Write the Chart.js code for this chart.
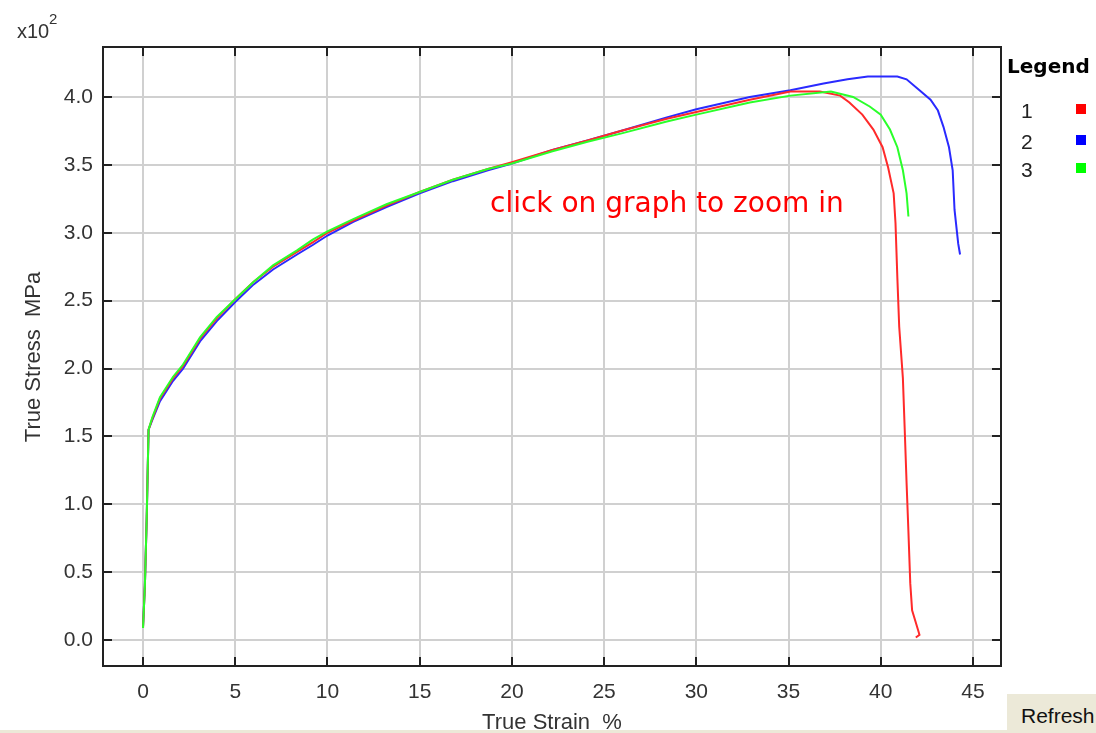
<!DOCTYPE html>
<html>
<head>
<meta charset="utf-8">
<script src="https://cdn.jsdelivr.net/npm/chart.js@4.4.0/dist/chart.umd.min.js"></script>
<style>
  body { margin: 0; background: #fff; overflow: hidden; }
  #wrap { position: relative; width: 1096px; height: 733px; }
  #strip { position: absolute; left: 0; right: 0; bottom: 0; height: 3px; background: #ece9d8; }
  #refresh { position: absolute; left: 1007px; top: 694px; width: 89px; height: 39px; background: #ece9d8;
    font: 21px "Liberation Sans", Arial, sans-serif; color: #111; box-sizing: border-box;
    padding: 10px 0 0 14px; line-height: 24px; white-space: nowrap; overflow: hidden; }
</style>
</head>
<body>
<div id="wrap">
  <canvas id="stressChart"></canvas>
  <div id="strip"></div>
  <div id="refresh">Refresh</div>
</div>
<script>
// true strain (%) and true stress (x10^2 MPa)
const strain1 = [0.0, 0.1, 0.2, 0.3, 0.5, 0.92, 1.63, 2.17, 3.09, 4.0, 5.0, 6.0, 7.05, 8.35, 9.2, 10.0, 11.4, 13.2, 15.0, 16.8, 18.7, 20.0, 22.2, 24.1, 25.9, 28.4, 30.0, 32.9, 35.1, 36.7, 37.8, 38.3, 39.0, 39.6, 40.1, 40.4, 40.7, 40.8, 40.9, 41.0, 41.2, 41.3, 41.4, 41.5, 41.6, 41.7, 41.9, 42.1, 41.9];
const stress1 = [0.09, 0.4, 0.9, 1.55, 1.63, 1.78, 1.93, 2.02, 2.22, 2.37, 2.51, 2.64, 2.75, 2.86, 2.93, 3.0, 3.09, 3.2, 3.3, 3.39, 3.47, 3.52, 3.61, 3.68, 3.75, 3.84, 3.89, 3.98, 4.04, 4.04, 4.01, 3.96, 3.87, 3.76, 3.63, 3.48, 3.29, 3.07, 2.67, 2.31, 1.93, 1.55, 1.16, 0.8, 0.42, 0.22, 0.13, 0.04, 0.02];

const strain2 = [0.0, 0.1, 0.2, 0.3, 0.5, 0.92, 1.63, 2.17, 3.09, 4.0, 5.0, 6.0, 7.05, 8.35, 9.2, 10.0, 11.4, 13.2, 15.0, 16.8, 18.7, 20.0, 22.2, 24.1, 25.9, 28.4, 30.0, 32.9, 35.1, 36.9, 38.2, 39.3, 40.9, 41.4, 42.1, 42.7, 43.1, 43.4, 43.7, 43.9, 44.0, 44.2, 44.3];
const stress2 = [0.1, 0.4, 0.9, 1.55, 1.62, 1.76, 1.91, 2.0, 2.2, 2.35, 2.49, 2.62, 2.73, 2.84, 2.91, 2.98, 3.08, 3.19, 3.29, 3.38, 3.46, 3.51, 3.61, 3.68, 3.75, 3.85, 3.91, 4.0, 4.05, 4.1, 4.13, 4.15, 4.15, 4.13, 4.05, 3.98, 3.9, 3.78, 3.63, 3.46, 3.17, 2.92, 2.84];

const strain3 = [0.0, 0.1, 0.2, 0.3, 0.5, 0.92, 1.63, 2.17, 3.09, 4.0, 5.0, 6.0, 7.05, 8.35, 9.2, 10.0, 11.4, 13.2, 15.0, 16.8, 18.7, 20.0, 22.2, 24.1, 25.9, 28.4, 30.0, 32.9, 35.1, 37.3, 38.5, 39.4, 40.0, 40.5, 40.9, 41.2, 41.4, 41.5];
const stress3 = [0.09, 0.4, 0.9, 1.55, 1.64, 1.79, 1.94, 2.03, 2.23, 2.38, 2.51, 2.64, 2.76, 2.87, 2.95, 3.01, 3.1, 3.21, 3.3, 3.39, 3.47, 3.51, 3.6, 3.67, 3.73, 3.82, 3.87, 3.96, 4.01, 4.04, 4.0, 3.93, 3.87, 3.76, 3.63, 3.46, 3.29, 3.12];

const seriesLabels = ['1', '2', '3'];
const xTicks = [0, 5, 10, 15, 20, 25, 30, 35, 40, 45];
const yTicks = [0.0, 0.5, 1.0, 1.5, 2.0, 2.5, 3.0, 3.5, 4.0];

const lineColors = ['#ff2a2a', '#2a2aff', '#2aff2a'];
const keyColors = ['#ff0000', '#0000ff', '#00ff00'];
const tickFont = { family: '"Liberation Sans", Arial, sans-serif', size: 21 };

function toPoints(xs, ys) {
  return xs.map((v, i) => ({ x: v, y: ys[i] }));
}

const canvas = document.getElementById('stressChart');
canvas.width = 1096;
canvas.height = 733;

// frame, inside ticks, legend and the loose texts
const decor = {
  id: 'decor',
  afterDraw(chart) {
    const { ctx, chartArea: a, scales: { x, y } } = chart;
    ctx.save();
    ctx.strokeStyle = '#222';
    ctx.lineWidth = 2;
    ctx.beginPath();
    xTicks.forEach(v => {
      const px = Math.round(x.getPixelForValue(v));
      ctx.moveTo(px, a.bottom); ctx.lineTo(px, a.bottom - 9);
      ctx.moveTo(px, a.top); ctx.lineTo(px, a.top + 9);
    });
    yTicks.forEach(v => {
      const py = Math.round(y.getPixelForValue(v));
      ctx.moveTo(a.left, py); ctx.lineTo(a.left + 9, py);
      ctx.moveTo(a.right, py); ctx.lineTo(a.right - 9, py);
    });
    ctx.stroke();
    ctx.strokeRect(a.left, a.top, a.right - a.left, a.bottom - a.top);

    ctx.fillStyle = '#ff0000';
    ctx.font = '28px "DejaVu Sans", sans-serif';
    ctx.textBaseline = 'alphabetic';
    ctx.textAlign = 'left';
    ctx.fillText('click on graph to zoom in', 490, 212);

    ctx.fillStyle = '#333';
    ctx.font = '20px "Liberation Sans", Arial, sans-serif';
    ctx.fillText('x10', 17, 38);
    ctx.font = '15px "Liberation Sans", Arial, sans-serif';
    ctx.fillText('2', 49, 24);

    ctx.font = '22px "Liberation Sans", Arial, sans-serif';
    ctx.textAlign = 'center';
    ctx.fillText('True Strain  %', 552, 729);
    ctx.save();
    ctx.translate(40, 357);
    ctx.rotate(-Math.PI / 2);
    ctx.fillText('True Stress  MPa', 0, 0);
    ctx.restore();

    ctx.textAlign = 'left';
    ctx.fillStyle = '#000';
    ctx.font = 'bold 20px "DejaVu Sans", sans-serif';
    ctx.fillText('Legend', 1007, 73);
    const rows = [112, 143, 171];
    ctx.font = '21px "Liberation Sans", Arial, sans-serif';
    ctx.textBaseline = 'middle';
    seriesLabels.forEach((s, i) => {
      ctx.fillStyle = '#222';
      ctx.fillText(s, 1021, rows[i]);
      ctx.fillStyle = keyColors[i];
      ctx.fillRect(1076, rows[i] - 8, 10, 10);
    });
    ctx.restore();
  }
};

new Chart(canvas, {
  type: 'scatter',
  data: {
    datasets: [
      { label: seriesLabels[0], data: toPoints(strain1, stress1), borderColor: lineColors[0], order: 1 },
      { label: seriesLabels[1], data: toPoints(strain2, stress2), borderColor: lineColors[1], order: 2 },
      { label: seriesLabels[2], data: toPoints(strain3, stress3), borderColor: lineColors[2], order: 0 }
    ].map(d => Object.assign(d, { showLine: true, pointRadius: 0, borderWidth: 2, tension: 0, fill: false }))
  },
  options: {
    responsive: false,
    animation: false,
    layout: { padding: { left: 0, top: 47, right: 95, bottom: 0 } },
    plugins: { legend: { display: false }, tooltip: { enabled: false } },
    scales: {
      x: {
        type: 'linear',
        min: -2.17,
        max: 46.52,
        afterBuildTicks: s => { s.ticks = xTicks.map(v => ({ value: v })); },
        afterFit: s => { s.height = 67; },
        grid: { color: '#d0d0d0', lineWidth: 2, drawTicks: false },
        border: { display: false },
        ticks: { font: tickFont, color: '#333', padding: 14, maxRotation: 0, callback: v => String(v) }
      },
      y: {
        type: 'linear',
        min: -0.19,
        max: 4.368,
        afterBuildTicks: s => { s.ticks = yTicks.map(v => ({ value: v })); },
        afterFit: s => { s.width = 103; },
        grid: { color: '#d0d0d0', lineWidth: 2, drawTicks: false },
        border: { display: false },
        ticks: { font: tickFont, color: '#333', padding: 10, callback: v => Number(v).toFixed(1) }
      }
    }
  },
  plugins: [decor]
});
</script>
</body>
</html>
